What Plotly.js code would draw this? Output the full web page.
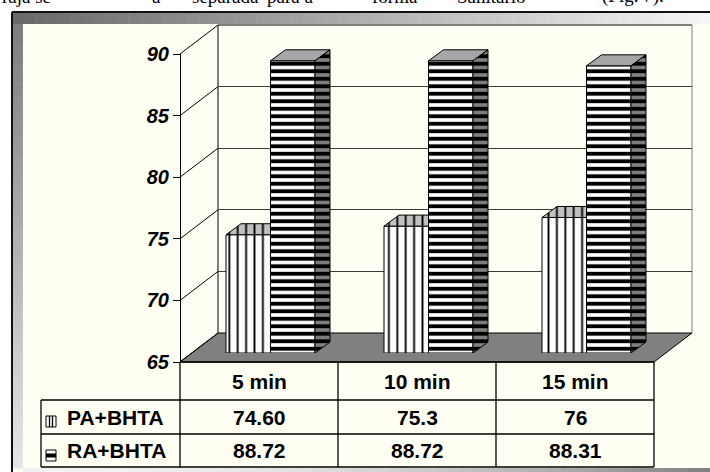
<!DOCTYPE html>
<html>
<head>
<meta charset="utf-8">
<script src="https://cdn.plot.ly/plotly-3.0.1.min.js"></script>
<style>html,body{margin:0;padding:0;background:#fff;}#chart{width:710px;height:472px;}</style>
</head>
<body>
<div id="chart"></div>
<script>
// ---- data ----
const categories = ['5 min', '10 min', '15 min'];
const seriesNames = ['PA+BHTA', 'RA+BHTA'];
const paValues = [74.60, 75.3, 76];
const raValues = [88.72, 88.72, 88.31];
const paLabels = ['74.60', '75.3', '76'];
const raLabels = ['88.72', '88.72', '88.31'];
const yTicks = [65, 70, 75, 80, 85, 90];
const yBase = 65;

// ---- geometry helpers (pixels -> paper) ----
const W = 710, H = 472;
const px = x => x / W;
const py = y => 1 - y / H;
const frontTop = 54, frontBot = 362, axisX = 180;
const depthX = 38, depthY = 29;
const pxPerUnit = (frontBot - frontTop) / (yTicks[yTicks.length - 1] - yTicks[0]);
const frontPx = v => frontBot - (v - yTicks[0]) * pxPerUnit;

const catSpacing = 158;
const barW = 44.5 / catSpacing;
const dxU = 15 / catSpacing, dyU = 11 / pxPerUnit;
const xIdx = categories.map((c, i) => i);

const shapes = [];
const annotations = [];

// inner background
shapes.push({type:'rect', xref:'paper', yref:'paper', x0:px(12), x1:px(710), y0:py(472), y1:py(12), fillcolor:'#fffff4', line:{width:0}, layer:'below'});
// gradient bevels
function gray(g){g=Math.round(g);return 'rgb('+g+','+g+','+g+')';}
const N = 60;
for (let i = 0; i < N; i++) {
  const t = i / (N - 1);
  const xa = 12 + (710 - 12) * i / N, xb = 12 + (710 - 12) * (i + 1) / N + 0.5;
  shapes.push({type:'rect', xref:'paper', yref:'paper', x0:px(xa), x1:px(xb), y0:py(24), y1:py(12), fillcolor:gray(105 + 140 * t), line:{width:0}, layer:'below'});
  const ya = 24 + (468 - 24) * i / N, yb = 24 + (468 - 24) * (i + 1) / N + 0.5;
  shapes.push({type:'rect', xref:'paper', yref:'paper', x0:px(12), x1:px(23), y0:py(yb), y1:py(ya), fillcolor:gray(125 + 105 * t), line:{width:0}, layer:'below'});
  const xc = 23 + (710 - 23) * i / N, xd = 23 + (710 - 23) * (i + 1) / N + 0.5;
  shapes.push({type:'rect', xref:'paper', yref:'paper', x0:px(xc), x1:px(xd), y0:py(472), y1:py(468), fillcolor:gray(242 - 114 * t * t), line:{width:0}, layer:'below'});
}
shapes.push({type:'line', xref:'paper', yref:'paper', x0:px(12), x1:px(710), y0:py(12), y1:py(12), line:{color:'#111', width:2}});
shapes.push({type:'line', xref:'paper', yref:'paper', x0:px(12), x1:px(12), y0:py(12), y1:py(472), line:{color:'#111', width:2}});

// floor
const fl = frontPx(yBase);
shapes.push({type:'path', xref:'paper', yref:'paper',
  path:'M'+px(axisX)+','+py(fl)+' L'+px(654)+','+py(fl)+' L'+px(654+depthX)+','+py(fl-depthY)+' L'+px(axisX+depthX)+','+py(fl-depthY)+' Z',
  fillcolor:'#808080', line:{color:'#000', width:1}, layer:'below'});
// back wall borders
shapes.push({type:'line', xref:'paper', yref:'paper', x0:px(axisX+depthX), x1:px(axisX+depthX), y0:py(frontTop-depthY), y1:py(fl-depthY), line:{color:'#000', width:1}, layer:'below'});
shapes.push({type:'line', xref:'paper', yref:'paper', x0:px(axisX+depthX), x1:px(654+depthX), y0:py(frontTop-depthY), y1:py(frontTop-depthY), line:{color:'#000', width:1}, layer:'below'});
shapes.push({type:'line', xref:'paper', yref:'paper', x0:px(654+depthX), x1:px(654+depthX), y0:py(frontTop-depthY), y1:py(fl-depthY), line:{color:'#808080', width:1}, layer:'below'});
// side wall diagonals at each tick
yTicks.forEach(v => {
  const f = frontPx(v);
  shapes.push({type:'line', xref:'paper', yref:'paper', x0:px(axisX), x1:px(axisX+depthX), y0:py(f), y1:py(f-depthY), line:{color:'#000', width:1}, layer:'below'});
});

// ---- table ----
const colX = [180, 338, 496, 654];
const rowY = [362, 400, 434, 467];
const tblLeft = 41;
const L = (x0,y0,x1,y1) => shapes.push({type:'line', xref:'paper', yref:'paper', x0:px(x0), x1:px(x1), y0:py(y0), y1:py(y1), line:{color:'#000', width:1.3}});
L(colX[0], rowY[0], colX[3], rowY[0]);
L(tblLeft, rowY[1], colX[3], rowY[1]);
L(tblLeft, rowY[2], colX[3], rowY[2]);
L(tblLeft, rowY[3], colX[3], rowY[3]);
L(tblLeft, rowY[1], tblLeft, rowY[3]);
colX.forEach(x => L(x, rowY[0], x, rowY[3]));
// legend keys
shapes.push({type:'rect', xref:'paper', yref:'paper', x0:px(46), x1:px(56), y0:py(427), y1:py(416), fillcolor:'#fff', line:{color:'#000', width:1}});
L(49.5, 416, 49.5, 427); L(52.5, 416, 52.5, 427);
shapes.push({type:'rect', xref:'paper', yref:'paper', x0:px(46), x1:px(56), y0:py(461), y1:py(450), fillcolor:'#fff', line:{color:'#000', width:1}});
shapes.push({type:'rect', xref:'paper', yref:'paper', x0:px(46), x1:px(56), y0:py(457.5), y1:py(453.5), fillcolor:'#000', line:{width:0}});

const tf = {family:'Arial, Liberation Sans, sans-serif', size:21, color:'#000', weight:'bold'};
const rowMid = [0,1,2].map(i => (rowY[i] + rowY[i+1]) / 2);
categories.forEach((c, i) => {
  const cx = (colX[i] + colX[i+1]) / 2;
  annotations.push({xref:'paper', yref:'paper', x:px(cx), y:py(rowMid[0]), text:c, showarrow:false, font:tf, xanchor:'center', yanchor:'middle'});
  annotations.push({xref:'paper', yref:'paper', x:px(cx), y:py(rowMid[1]), text:paLabels[i], showarrow:false, font:tf, xanchor:'center', yanchor:'middle'});
  annotations.push({xref:'paper', yref:'paper', x:px(cx), y:py(rowMid[2]), text:raLabels[i], showarrow:false, font:tf, xanchor:'center', yanchor:'middle'});
});
seriesNames.forEach((s, j) => {
  annotations.push({xref:'paper', yref:'paper', x:px(65), y:py(rowMid[j+1]), text:s, showarrow:false, font:tf, xanchor:'left', yanchor:'middle'});
});

// cropped document text above the chart
const serif = {family:'Liberation Serif, Times New Roman, serif', size:19, color:'#000'};
[['rajá se', 0], ['a', 150], ['separada', 190], ['para a', 265], ['forma', 370], ['Sanitário', 455], ['(Fig. 7).', 600]].forEach(w => {
  annotations.push({xref:'paper', yref:'paper', x:px(w[1]), y:py(-4), text:w[0], showarrow:false, font:serif, xanchor:'left', yanchor:'middle'});
});

// ---- traces ----
const patV = (bg) => ({shape:'|', size:8.4, solidity:0.22, fgcolor:'#000', bgcolor:bg, fillmode:'replace'});
const patH = (bg) => ({shape:'-', size:7.5, solidity:0.52, fgcolor:'#000', bgcolor:bg, fillmode:'replace'});

const paBar = {type:'bar', name:seriesNames[0], x:xIdx, y:paValues.map(v => v - yBase), base:yBase, width:barW, offset:-barW,
  xaxis:'x2', yaxis:'y3', marker:{color:'#fff', pattern:patV('#fff'), line:{color:'#000', width:1}}, hoverinfo:'skip', showlegend:false};
const raBar = {type:'bar', name:seriesNames[1], x:xIdx, y:raValues.map(v => v - yBase), base:yBase, width:barW, offset:0,
  xaxis:'x2', yaxis:'y3', marker:{color:'#fff', pattern:patH('#fff'), line:{color:'#000', width:1}}, hoverinfo:'skip', showlegend:false};

function polys(fn){ const X=[],Y=[]; xIdx.forEach(i=>{const p=fn(i); p.forEach(q=>{X.push(q[0]);Y.push(q[1]);}); X.push(p[0][0]); Y.push(p[0][1]); X.push(null); Y.push(null);}); return {X,Y}; }
const paTop = polys(i => { const v=paValues[i], xl=i-barW, xr=i; return [[xl,v],[xr,v],[xr,v+dyU],[xl+dxU,v+dyU]]; });
const raTop = polys(i => { const v=raValues[i], xl=i, xr=i+barW; return [[xl,v],[xr,v],[xr+dxU,v+dyU],[xl+dxU,v+dyU]]; });
const raSide = polys(i => { const v=raValues[i], xr=i+barW; return [[xr,yBase],[xr,v],[xr+dxU,v+dyU],[xr+dxU,yBase+dyU]]; });

const face = (p, fillcolor, pattern) => ({type:'scatter', mode:'lines', x:p.X, y:p.Y, fill:'toself', fillcolor:fillcolor, fillpattern:pattern,
  line:{color:'#000', width:1}, xaxis:'x2', yaxis:'y3', hoverinfo:'skip', showlegend:false, connectgaps:false});

const traces = [
  {type:'scatter', x:[null], y:[null], xaxis:'x', yaxis:'y', hoverinfo:'skip', showlegend:false},
  {type:'scatter', x:[null], y:[null], xaxis:'x', yaxis:'y2', hoverinfo:'skip', showlegend:false},
  paBar, raBar,
  face(paTop, '#c0c0c0', patV('#c0c0c0')),
  face(raTop, '#a6a6a6', undefined),
  face(raSide, '#808080', patH('#808080'))
];

const layout = {
  width:W, height:H, margin:{l:0, r:0, t:0, b:0},
  paper_bgcolor:'#fff', plot_bgcolor:'rgba(0,0,0,0)',
  showlegend:false, barmode:'overlay',
  xaxis:{domain:[px(axisX+depthX), px(654+depthX)], range:[0,1], visible:false, fixedrange:true},
  yaxis:{domain:[py(fl-depthY), py(frontTop-depthY)], range:[yTicks[0], yTicks[yTicks.length-1]], tickvals:yTicks.slice(1, -1),
    showgrid:true, gridcolor:'#3a3a3a', gridwidth:1, showticklabels:false, ticks:'', zeroline:false, showline:false, fixedrange:true},
  yaxis2:{domain:[py(fl), py(frontTop)], range:[yTicks[0], yTicks[yTicks.length-1]], tickvals:yTicks, anchor:'free', position:px(axisX), side:'left',
    showline:true, linecolor:'#000', linewidth:1, ticks:'outside', ticklen:7, tickcolor:'#000', tickwidth:1, showgrid:false, zeroline:false,
    tickfont:{family:'Arial, Liberation Sans, sans-serif', size:20, color:'#000', weight:'bold', style:'italic'}, fixedrange:true},
  xaxis2:{domain:[px(191.5), px(191.5 + 3*catSpacing)], range:[-0.5, 2.5], visible:false, anchor:'y3', fixedrange:true},
  yaxis3:{domain:[py(353), py(353 - (yTicks[yTicks.length-1]-yTicks[0])*pxPerUnit)], range:[yTicks[0], yTicks[yTicks.length-1]], visible:false, anchor:'x2', fixedrange:true},
  shapes:shapes, annotations:annotations
};

Plotly.newPlot('chart', traces, layout, {staticPlot:true, displayModeBar:false});
</script>
</body>
</html>
